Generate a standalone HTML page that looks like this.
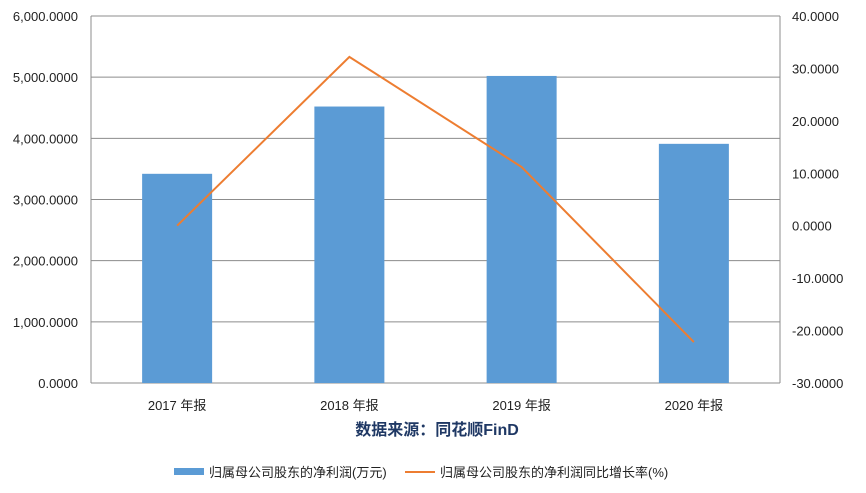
<!DOCTYPE html>
<html><head><meta charset="utf-8"><style>
body{margin:0;background:#fff;}
svg{display:block;font-family:"Liberation Sans","Noto Sans CJK SC",sans-serif;}
</style></head><body>
<svg id="chart" width="866" height="493"></svg>
<script>
const categories=["2017 年报","2018 年报","2019 年报","2020 年报"];
const profitValues=[3420,4520,5020,3910];
const growthValues=[0.0,32.2,11.2,-22.2];
const leftTicks=[0,1000,2000,3000,4000,5000,6000];
const rightTicks=[-30,-20,-10,0,10,20,30,40];
const NS="http://www.w3.org/2000/svg";
const svg=document.getElementById('chart');
const L=91,R=780,T=16,B=383;
const yL=v=>B-(v-0)/6000*(B-T);
const yR=v=>B-(v+30)/70*(B-T);
const bw=(R-L)/categories.length;
const xC=i=>L+bw*(i+0.5);
function mk(t,a,txt){const e=document.createElementNS(NS,t);for(const k in a)e.setAttribute(k,a[k]);if(txt!==undefined)e.textContent=txt;svg.appendChild(e);return e;}
const fmt=v=>v.toLocaleString('en-US',{minimumFractionDigits:4,maximumFractionDigits:4});
leftTicks.forEach(v=>{
 const g=mk('line',{x1:L,x2:R,y1:yL(v),y2:yL(v),stroke:'#8c8c8c','stroke-width':1});
 
 const t=mk('text',{x:L-13,y:yL(v)+5,'text-anchor':'end','font-size':13,fill:'#222'},fmt(v));
 
});
rightTicks.forEach(v=>{
 const t=mk('text',{x:R+12,y:yR(v)+5,'text-anchor':'start','font-size':13,fill:'#222'},fmt(v));
 
});
let ax=mk('line',{x1:L,x2:L,y1:T,y2:B,stroke:'#8c8c8c'});
ax=mk('line',{x1:R,x2:R,y1:T,y2:B,stroke:'#8c8c8c'});
profitValues.forEach((v,i)=>{
 const b=mk('rect',{x:xC(i)-35,y:yL(v),width:70,height:B-yL(v),fill:'#5b9bd5'});
 
 const t=mk('text',{x:xC(i),y:410,'text-anchor':'middle','font-size':13,fill:'#222'},categories[i]);
 
});
const pl=mk('polyline',{points:growthValues.map((v,i)=>xC(i)+','+yR(v)).join(' '),fill:'none',stroke:'#ed7d31','stroke-width':2});

let s=mk('text',{x:437,y:435,'text-anchor':'middle','font-size':16,'font-weight':'bold',fill:'#1f3864'},'数据来源：同花顺FinD');

let lg=mk('rect',{x:174,y:468,width:30,height:7,fill:'#5b9bd5'});
lg=mk('text',{x:209,y:477,'font-size':13,fill:'#222'},'归属母公司股东的净利润(万元)');
lg=mk('line',{x1:405,x2:435,y1:472,y2:472,stroke:'#ed7d31','stroke-width':2});
lg=mk('text',{x:440,y:477,'font-size':13,fill:'#222'},'归属母公司股东的净利润同比增长率(%)');
</script>
</body></html>
